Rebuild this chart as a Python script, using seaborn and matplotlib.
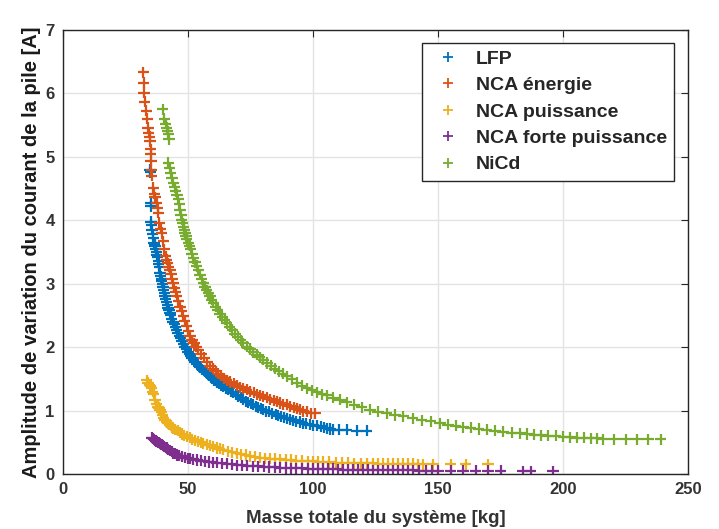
import numpy as np
import pandas as pd
import matplotlib
matplotlib.use("Agg")
import matplotlib.pyplot as plt
import seaborn as sns

series_names = ["LFP", "NCA énergie", "NCA puissance", "NCA forte puissance", "NiCd"]
series_colors = ["#0072BD", "#D95319", "#EDB120", "#7E2F8E", "#77AC30"]

lfp_x = [34.8, 34.9, 35.0, 35.1, 35.2, 35.3, 35.6, 35.9, 36.1, 36.4,
         36.6, 36.8, 37.0, 37.3, 37.5, 37.8, 38.1, 38.3, 38.5, 38.8,
         39.0, 39.3, 39.5, 39.8, 40.0, 40.3, 40.5, 40.8, 41.1, 41.4,
         41.7, 42.0, 42.4, 42.8, 43.1, 43.5, 44.0, 44.5, 45.0, 45.5,
         46.0, 46.5, 47.0, 47.6, 48.2, 48.8, 49.4, 50.0, 50.5, 51.1,
         51.6, 52.1, 52.8, 53.4, 54.1, 54.8, 55.5, 56.2, 56.8, 57.5,
         58.2, 59.0, 59.7, 60.5, 61.4, 62.3, 63.2, 64.1, 65.0, 66.0,
         67.0, 68.0, 69.0, 70.0, 71.0, 72.1, 73.0, 74.0, 75.0, 76.0,
         77.0, 78.0, 79.0, 80.1, 81.3, 82.5, 83.7, 85.0, 86.1, 87.2,
         88.3, 89.5, 90.7, 92.0, 93.3, 94.6, 95.9, 97.3, 98.7, 100.1,
         101.5, 103.0, 104.2, 105.5, 106.8, 108.1, 110.5, 113.5, 117.5, 121.5]
lfp_y = [4.80, 4.76, 4.28, 4.22, 3.98, 3.93, 3.85, 3.78, 3.72, 3.64,
         3.62, 3.59, 3.55, 3.50, 3.46, 3.42, 3.36, 3.31, 3.27, 3.17,
         3.12, 3.08, 3.04, 3.00, 2.95, 2.90, 2.85, 2.80, 2.76, 2.71,
         2.66, 2.62, 2.58, 2.54, 2.50, 2.45, 2.40, 2.36, 2.31, 2.27,
         2.22, 2.18, 2.14, 2.10, 2.05, 2.01, 1.97, 1.93, 1.89, 1.86,
         1.83, 1.80, 1.77, 1.74, 1.71, 1.68, 1.65, 1.63, 1.61, 1.59,
         1.56, 1.53, 1.50, 1.48, 1.45, 1.43, 1.40, 1.38, 1.35, 1.33,
         1.30, 1.28, 1.25, 1.23, 1.20, 1.17, 1.15, 1.13, 1.11, 1.09,
         1.07, 1.05, 1.03, 1.01, 0.99, 0.98, 0.96, 0.94, 0.92, 0.91,
         0.89, 0.88, 0.86, 0.85, 0.83, 0.82, 0.80, 0.79, 0.78, 0.77,
         0.76, 0.75, 0.73, 0.72, 0.71, 0.70, 0.70, 0.70, 0.68, 0.68]

nca_e_x = [32.1, 32.3, 32.4, 32.6, 33.3, 33.7, 34.0, 34.3, 34.6, 34.8,
           35.0, 35.1, 35.2, 35.3, 35.5, 36.1, 36.5, 36.8, 37.5, 37.8,
           38.1, 38.5, 39.0, 39.5, 40.1, 40.5, 41.1, 41.5, 41.9, 42.3,
           42.8, 43.2, 43.6, 44.0, 44.5, 45.0, 45.5, 46.1, 46.8, 47.4,
           48.1, 48.7, 49.4, 50.1, 50.8, 51.6, 52.4, 53.2, 54.1, 55.2,
           56.4, 57.6, 58.8, 59.9, 61.0, 62.1, 63.2, 64.3, 65.5, 66.8,
           68.2, 69.5, 70.8, 72.1, 73.5, 74.8, 76.2, 77.5, 78.8, 80.1,
           81.5, 82.8, 84.2, 85.5, 86.8, 88.1, 89.5, 90.8, 92.2, 93.5,
           94.8, 96.1, 97.5, 99.0, 100.8]
nca_e_y = [6.33, 6.17, 6.01, 5.87, 5.73, 5.60, 5.46, 5.38, 5.32, 5.25,
           5.12, 5.04, 4.93, 4.80, 4.70, 4.51, 4.42, 4.36, 4.28, 4.20,
           4.12, 3.96, 3.87, 3.80, 3.67, 3.54, 3.43, 3.38, 3.32, 3.27,
           3.22, 3.15, 3.08, 3.01, 2.94, 2.87, 2.80, 2.72, 2.64, 2.57,
           2.49, 2.41, 2.33, 2.25, 2.17, 2.11, 2.06, 2.01, 1.96, 1.89,
           1.83, 1.76, 1.70, 1.66, 1.62, 1.58, 1.55, 1.51, 1.48, 1.45,
           1.42, 1.39, 1.37, 1.35, 1.33, 1.30, 1.28, 1.26, 1.24, 1.22,
           1.20, 1.18, 1.16, 1.14, 1.12, 1.10, 1.09, 1.07, 1.05, 1.03,
           1.01, 0.99, 0.98, 0.96, 0.96]

nca_p_x = [33.5, 34.0, 34.6, 35.0, 35.5, 35.9, 36.3, 36.8, 37.3, 38.0,
           38.4, 38.8, 39.3, 39.8, 40.3, 40.8, 41.4, 42.0, 42.5, 43.0,
           43.5, 44.1, 44.9, 45.8, 46.7, 47.6, 48.5, 49.5, 50.6, 51.7,
           52.8, 53.9, 55.0, 56.1, 57.4, 58.8, 60.1, 61.4, 62.7, 64.1,
           65.9, 67.7, 69.5, 71.2, 73.0, 74.8, 76.8, 78.8, 80.8, 82.8,
           84.8, 86.8, 89.0, 91.0, 93.2, 95.5, 97.8, 100.0, 102.0, 104.1,
           106.5, 109.0, 111.5, 114.0, 116.5, 119.0, 121.5, 124.1, 126.0, 128.0,
           130.0, 132.0, 134.0, 136.0, 138.0, 140.0, 142.0, 144.0, 148.1, 155.0,
           161.0, 170.0]
nca_p_y = [1.48, 1.44, 1.40, 1.38, 1.35, 1.30, 1.26, 1.17, 1.10, 1.06,
           1.04, 1.01, 0.97, 0.93, 0.89, 0.85, 0.82, 0.80, 0.78, 0.76,
           0.74, 0.72, 0.70, 0.68, 0.65, 0.63, 0.61, 0.59, 0.57, 0.55,
           0.53, 0.51, 0.50, 0.48, 0.46, 0.45, 0.43, 0.41, 0.40, 0.38,
           0.36, 0.34, 0.33, 0.31, 0.30, 0.28, 0.27, 0.26, 0.25, 0.24,
           0.24, 0.23, 0.22, 0.22, 0.21, 0.21, 0.20, 0.20, 0.19, 0.19,
           0.19, 0.18, 0.18, 0.18, 0.17, 0.17, 0.17, 0.17, 0.16, 0.16,
           0.16, 0.16, 0.16, 0.16, 0.16, 0.16, 0.15, 0.15, 0.15, 0.15,
           0.15, 0.15]

nca_fp_x = [35.5, 35.9, 36.2, 36.6, 37.0, 37.4, 37.8, 38.3, 38.8, 39.2,
            39.6, 40.0, 40.5, 41.0, 41.5, 42.1, 42.8, 43.4, 44.1, 44.8,
            45.5, 46.5, 47.5, 48.6, 49.8, 50.9, 52.1, 53.6, 55.2, 56.7,
            58.3, 59.9, 61.5, 63.5, 65.5, 67.5, 69.5, 71.5, 73.5, 75.8,
            78.0, 80.2, 82.4, 84.6, 86.8, 89.0, 91.0, 93.2, 95.5, 97.8,
            100.0, 102.0, 104.0, 106.0, 108.0, 110.0, 112.0, 114.0, 116.0, 118.0,
            120.0, 122.0, 124.0, 126.0, 128.0, 130.0, 132.0, 134.0, 136.0, 138.0,
            140.0, 142.5, 145.0, 147.5, 150.0, 155.0, 160.0, 165.0, 170.0, 175.0,
            184.0, 187.0, 196.0]
nca_fp_y = [0.57, 0.56, 0.55, 0.53, 0.52, 0.51, 0.50, 0.49, 0.48, 0.47,
            0.46, 0.45, 0.43, 0.42, 0.41, 0.39, 0.37, 0.35, 0.33, 0.32,
            0.30, 0.29, 0.28, 0.26, 0.25, 0.24, 0.23, 0.22, 0.21, 0.20,
            0.19, 0.185, 0.18, 0.17, 0.16, 0.15, 0.14, 0.135, 0.13, 0.125,
            0.12, 0.115, 0.11, 0.105, 0.10, 0.095, 0.09, 0.09, 0.09, 0.085,
            0.08, 0.08, 0.08, 0.08, 0.08, 0.075, 0.07, 0.07, 0.07, 0.07,
            0.07, 0.065, 0.06, 0.06, 0.06, 0.06, 0.06, 0.06, 0.06, 0.06,
            0.06, 0.055, 0.05, 0.05, 0.05, 0.05, 0.05, 0.05, 0.05, 0.05,
            0.04, 0.04, 0.04]

nicd_x = [39.9, 40.5, 41.0, 41.5, 41.8, 42.1, 42.4, 42.1, 42.6, 43.1,
          43.6, 44.1, 44.6, 45.1, 45.6, 46.1, 46.5, 46.8, 47.2, 47.5,
          47.9, 48.2, 48.5, 48.8, 49.2, 49.5, 50.1, 50.6, 51.1, 51.6,
          52.1, 52.8, 53.4, 54.1, 54.8, 55.4, 56.1, 56.8, 57.4, 58.1,
          58.8, 59.4, 60.1, 61.0, 61.9, 62.8, 63.7, 64.6, 65.5, 66.6,
          67.7, 68.8, 69.9, 71.0, 72.1, 73.4, 74.8, 76.1, 77.4, 78.7,
          80.1, 81.6, 83.2, 84.7, 86.3, 87.9, 89.5, 91.5, 93.5, 95.5,
          97.5, 99.5, 101.5, 103.5, 105.5, 108.0, 110.8, 113.5, 116.5, 119.5,
          122.8, 126.0, 129.5, 132.8, 136.1, 139.8, 143.5, 147.0, 150.8, 154.0,
          157.0, 160.0, 163.0, 166.2, 169.5, 172.8, 176.0, 179.5, 182.8, 185.6,
          188.5, 191.2, 194.0, 197.0, 200.1, 202.8, 205.5, 208.2, 211.0, 213.5,
          216.1, 220.5, 225.0, 229.5, 234.0, 239.0]
nicd_y = [5.75, 5.60, 5.52, 5.46, 5.40, 5.36, 5.28, 4.91, 4.83, 4.75,
          4.67, 4.59, 4.52, 4.46, 4.40, 4.33, 4.25, 4.17, 4.09, 4.01,
          3.95, 3.90, 3.85, 3.80, 3.75, 3.70, 3.64, 3.60, 3.55, 3.47,
          3.40, 3.34, 3.28, 3.21, 3.14, 3.07, 3.01, 2.95, 2.90, 2.85,
          2.80, 2.75, 2.70, 2.64, 2.59, 2.53, 2.48, 2.43, 2.38, 2.32,
          2.27, 2.21, 2.16, 2.11, 2.06, 2.01, 1.97, 1.92, 1.88, 1.84,
          1.80, 1.75, 1.71, 1.66, 1.62, 1.58, 1.54, 1.49, 1.44, 1.39,
          1.35, 1.32, 1.29, 1.26, 1.24, 1.20, 1.17, 1.13, 1.09, 1.05,
          1.01, 0.98, 0.96, 0.93, 0.91, 0.88, 0.85, 0.83, 0.80, 0.78,
          0.76, 0.74, 0.73, 0.71, 0.70, 0.68, 0.67, 0.65, 0.64, 0.63,
          0.62, 0.61, 0.60, 0.60, 0.59, 0.58, 0.57, 0.57, 0.56, 0.56,
          0.55, 0.55, 0.55, 0.55, 0.55, 0.55]

x_ticks = [0, 50, 100, 150, 200, 250]
y_ticks = [0, 1, 2, 3, 4, 5, 6, 7]
x_label = "Masse totale du système [kg]"
y_label = "Amplitude de variation du courant de la pile [A]"

all_x = [lfp_x, nca_e_x, nca_p_x, nca_fp_x, nicd_x]
all_y = [lfp_y, nca_e_y, nca_p_y, nca_fp_y, nicd_y]
frames = []
for name, xs, ys in zip(series_names, all_x, all_y):
    frames.append(pd.DataFrame({"masse": xs, "courant": ys, "serie": name}))
df = pd.concat(frames, ignore_index=True)

sns.set_style("white")
plt.rcParams["font.family"] = ["Liberation Sans", "DejaVu Sans"]
plt.rcParams["font.weight"] = "bold"

fig = plt.figure(figsize=(7.19, 5.29), dpi=100)
ax = fig.add_axes([63 / 719, 1 - 474 / 529, (688 - 63) / 719, (474 - 30) / 529])

sns.scatterplot(data=df, x="masse", y="courant", hue="serie", hue_order=series_names,
                palette=series_colors, marker="+", s=64, linewidth=1.6, ax=ax, legend=False)

ax.set_xlim(0, 250)
ax.set_ylim(0, 7)
ax.set_xticks(x_ticks)
ax.set_yticks(y_ticks)
ax.grid(True, color="#e3e3e3", linewidth=1.0)
ax.set_axisbelow(True)
for sp in ax.spines.values():
    sp.set_color("#262626")
    sp.set_linewidth(1.0)
ax.tick_params(direction="in", length=5, width=0.8, colors="#262626", labelsize=12,
               top=True, right=True, pad=6)
for lab in ax.get_xticklabels() + ax.get_yticklabels():
    lab.set_fontweight("bold")
    lab.set_color("#333333")
ax.set_xlabel(x_label, fontsize=13.5, fontweight="bold", color="#333333", labelpad=9)
ax.set_ylabel(y_label, fontsize=14.5, fontweight="bold", color="#1a1a1a", labelpad=3)

handles = [plt.Line2D([], [], linestyle="none", marker="+", color=c, markersize=7,
                      markeredgewidth=1.3) for c in series_colors]
leg = ax.legend(handles, series_names, loc="upper right", bbox_to_anchor=(0.978, 0.971),
                frameon=True, fancybox=False, edgecolor="#262626", framealpha=1,
                prop={"weight": "bold", "size": 14}, handlelength=1.9, handletextpad=0.5,
                borderpad=0.38, labelspacing=0.45, borderaxespad=0)
leg.get_frame().set_linewidth(1.0)

fig.savefig("out.png", dpi=100)
